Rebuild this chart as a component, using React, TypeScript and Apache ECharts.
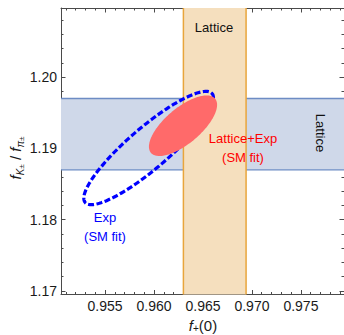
import React, { useEffect, useRef } from 'react';
import * as echarts from 'echarts';

// axis ranges and ticks
const X_RANGE = [0.9505, 0.9794];
const Y_RANGE = [1.1695, 1.2097];
const xMajorTicks = [0.955, 0.96, 0.965, 0.97, 0.975];
const xMinorTicks = [0.951, 0.952, 0.953, 0.954, 0.956, 0.957, 0.958, 0.959, 0.961, 0.962, 0.963, 0.964, 0.966, 0.967, 0.968, 0.969, 0.971, 0.972, 0.973, 0.974, 0.976, 0.977, 0.978, 0.979];
const yMajorTicks = [1.17, 1.18, 1.19, 1.2];
const yMinorTicks = [1.172, 1.174, 1.176, 1.178, 1.182, 1.184, 1.186, 1.188, 1.192, 1.194, 1.196, 1.198, 1.202, 1.204, 1.206, 1.208];

// lattice bands
const latticeRatioBand = [1.187, 1.197]; // f_K / f_pi
const latticeFplusBand = [0.963, 0.9694]; // f_+(0)

// Exp (SM fit) contour: center, half extents, correlation
const expCenter = [0.95945, 1.19005];
const expHalfExtent = [0.00662, 0.00795];
const expCorrelation = 0.885;

// Lattice+Exp (SM fit) contour
const combCenter = [0.96296, 1.19318];
const combHalfExtent = [0.00348, 0.00425];
const combCorrelation = 0.69;

function contour(center: number[], half: number[], rho: number, n = 160) {
  const d = Math.acos(rho);
  const pts: number[][] = [];
  for (let i = 0; i < n; i++) {
    const t = (2 * Math.PI * i) / n;
    pts.push([center[0] + half[0] * Math.cos(t), center[1] + half[1] * Math.cos(t - d)]);
  }
  return pts;
}

const FONT = '"Liberation Sans", Arial, sans-serif';
const FRAME = '#4a4a4a';

function xAxisDef(position: string, ticks: number[], len: number, labels: boolean, line: boolean) {
  return {
    type: 'value',
    position,
    min: X_RANGE[0],
    max: X_RANGE[1],
    splitLine: { show: false },
    axisLine: { show: line, onZero: false, lineStyle: { color: FRAME, width: 1 } },
    axisTick: { show: true, inside: true, length: len, customValues: ticks, lineStyle: { color: FRAME, width: 1 } },
    axisLabel: labels
      ? { show: true, customValues: ticks, margin: 4, color: '#1a1a1a', fontSize: 14, fontFamily: FONT, formatter: (v: number) => v.toFixed(3) }
      : { show: false },
  };
}

function yAxisDef(position: string, ticks: number[], len: number, labels: boolean, line: boolean) {
  return {
    type: 'value',
    position,
    min: Y_RANGE[0],
    max: Y_RANGE[1],
    splitLine: { show: false },
    axisLine: { show: line, onZero: false, lineStyle: { color: FRAME, width: 1 } },
    axisTick: { show: true, inside: true, length: len, customValues: ticks, lineStyle: { color: FRAME, width: 1 } },
    axisLabel: labels
      ? { show: true, customValues: ticks, margin: 4, color: '#1a1a1a', fontSize: 14, fontFamily: FONT, formatter: (v: number) => v.toFixed(2) }
      : { show: false },
  };
}

export default function App() {
  const ref = useRef<HTMLDivElement>(null);
  useEffect(() => {
    if (!ref.current) return;
    const chart = echarts.init(ref.current, null, { renderer: 'svg' });
    const expPts = contour(expCenter, expHalfExtent, expCorrelation);
    const combPts = contour(combCenter, combHalfExtent, combCorrelation);

    const option: any = {
      animation: false,
      grid: { left: 61, top: 8, width: 283, height: 286.5, containLabel: false },
      xAxis: [
        xAxisDef('bottom', xMajorTicks, 4.5, true, true),
        xAxisDef('bottom', xMinorTicks, 2.5, false, false),
        xAxisDef('top', xMajorTicks, 4.5, false, true),
        xAxisDef('top', xMinorTicks, 2.5, false, false),
      ],
      yAxis: [
        yAxisDef('left', yMajorTicks, 4.5, true, true),
        yAxisDef('left', yMinorTicks, 2.5, false, false),
        yAxisDef('right', yMajorTicks, 4.5, false, true),
        yAxisDef('right', yMinorTicks, 2.5, false, false),
      ],
      series: [
        {
          type: 'custom',
          silent: true,
          z: 1,
          data: [[X_RANGE[0], latticeRatioBand[0]]],
          renderItem: (_p: any, api: any) => {
            const a = api.coord([X_RANGE[0], latticeRatioBand[1]]);
            const b = api.coord([X_RANGE[1], latticeRatioBand[0]]);
            return {
              type: 'group',
              children: [
                { type: 'rect', shape: { x: a[0], y: a[1], width: b[0] - a[0], height: b[1] - a[1] }, style: { fill: '#CFD8E9' } },
                { type: 'line', shape: { x1: a[0], y1: a[1], x2: b[0], y2: a[1] }, style: { stroke: '#6D8CC4', lineWidth: 1.3 } },
                { type: 'line', shape: { x1: a[0], y1: b[1], x2: b[0], y2: b[1] }, style: { stroke: '#6D8CC4', lineWidth: 1.3 } },
              ],
            };
          },
        },
        {
          type: 'custom',
          silent: true,
          z: 2,
          data: [[latticeFplusBand[0], Y_RANGE[0]]],
          renderItem: (_p: any, api: any) => {
            const a = api.coord([latticeFplusBand[0], Y_RANGE[1]]);
            const b = api.coord([latticeFplusBand[1], Y_RANGE[0]]);
            return {
              type: 'group',
              children: [
                { type: 'rect', shape: { x: a[0], y: a[1], width: b[0] - a[0], height: b[1] - a[1] }, style: { fill: '#F5DFBE' } },
                { type: 'line', shape: { x1: a[0], y1: a[1], x2: a[0], y2: b[1] }, style: { stroke: '#E8A53C', lineWidth: 1.5 } },
                { type: 'line', shape: { x1: b[0], y1: a[1], x2: b[0], y2: b[1] }, style: { stroke: '#E8A53C', lineWidth: 1.5 } },
              ],
            };
          },
        },
        {
          type: 'custom',
          silent: true,
          z: 3,
          data: [expCenter],
          renderItem: (_p: any, api: any) => ({
            type: 'polygon',
            shape: { points: expPts.map((p) => api.coord(p)) },
            style: { fill: 'none', stroke: '#0000FF', lineWidth: 3.2, lineDash: [6, 2.5] },
          }),
        },
        {
          type: 'custom',
          silent: true,
          z: 4,
          data: [combCenter],
          renderItem: (_p: any, api: any) => ({
            type: 'polygon',
            shape: { points: combPts.map((p) => api.coord(p)) },
            style: { fill: '#FF6A6A', stroke: 'none' },
          }),
        },
      ],
      graphic: [
        { type: 'text', x: 214, y: 27, z: 10, style: { text: 'Lattice', fill: '#111', fontSize: 13, fontFamily: FONT, align: 'center', verticalAlign: 'middle' } },
        { type: 'text', x: 320, y: 133, rotation: -Math.PI / 2, z: 10, style: { text: 'Lattice', fill: '#111', fontSize: 13, fontFamily: FONT, align: 'center', verticalAlign: 'middle' } },
        { type: 'text', x: 243, y: 138, z: 10, style: { text: 'Lattice+Exp', fill: '#FF0000', fontSize: 13, fontFamily: FONT, align: 'center', verticalAlign: 'middle' } },
        { type: 'text', x: 243, y: 157, z: 10, style: { text: '(SM fit)', fill: '#FF0000', fontSize: 13, fontFamily: FONT, align: 'center', verticalAlign: 'middle' } },
        { type: 'text', x: 105, y: 217, z: 10, style: { text: 'Exp', fill: '#0000FF', fontSize: 13, fontFamily: FONT, align: 'center', verticalAlign: 'middle' } },
        { type: 'text', x: 105, y: 236, z: 10, style: { text: '(SM fit)', fill: '#0000FF', fontSize: 13, fontFamily: FONT, align: 'center', verticalAlign: 'middle' } },
        {
          type: 'text', x: 15, y: 158, rotation: Math.PI / 2, z: 10,
          style: {
            text: '{f|f}{sub|K}{sup|±}{n| / }{f|f}{sub|π}{sup|±}',
            align: 'center', verticalAlign: 'middle', fill: '#1a1a1a', fontFamily: FONT,
            rich: {
              f: { fontSize: 15, fontStyle: 'italic', fontFamily: FONT, fill: '#1a1a1a', lineHeight: 20 },
              n: { fontSize: 15, fontFamily: FONT, fill: '#1a1a1a', lineHeight: 20 },
              sub: { fontSize: 10, fontStyle: 'italic', fontFamily: FONT, fill: '#1a1a1a', lineHeight: 10, verticalAlign: 'bottom' },
              sup: { fontSize: 8, fontFamily: FONT, fill: '#1a1a1a', lineHeight: 14, verticalAlign: 'bottom' },
            },
          },
        },
        {
          type: 'text', x: 203, y: 325, z: 10,
          style: {
            text: '{f|f}{sub|+}{n|(0)}',
            align: 'center', verticalAlign: 'middle', fill: '#1a1a1a', fontFamily: FONT,
            rich: {
              f: { fontSize: 15, fontStyle: 'italic', fontFamily: FONT, fill: '#1a1a1a', lineHeight: 17 },
              n: { fontSize: 15, fontFamily: FONT, fill: '#1a1a1a', lineHeight: 17 },
              sub: { fontSize: 10, fontFamily: FONT, fill: '#1a1a1a', lineHeight: 10, verticalAlign: 'bottom' },
            },
          },
        },
      ],
    };
    chart.setOption(option);
    return () => chart.dispose();
  }, []);
  return <div ref={ref} style={{ width: 344, height: 335, position: 'absolute', left: 0, top: 0 }} />;
}
